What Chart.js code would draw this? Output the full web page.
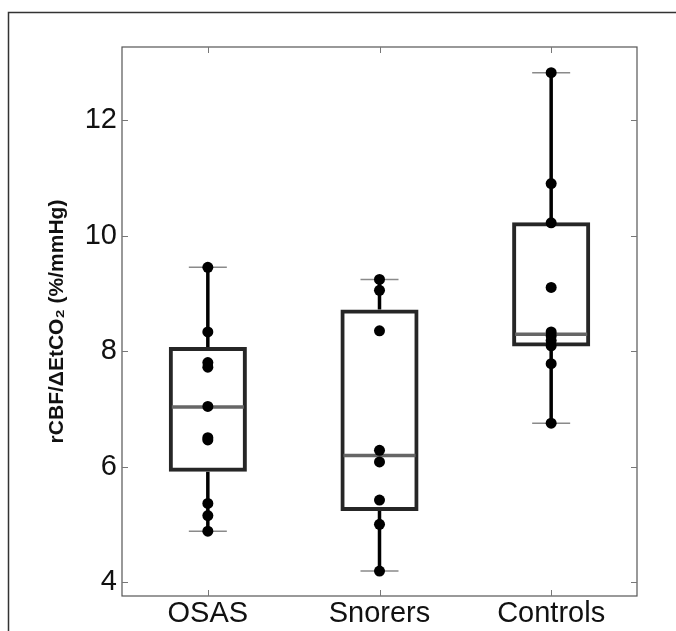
<!DOCTYPE html>
<html>
<head>
<meta charset="utf-8">
<script src="https://cdn.jsdelivr.net/npm/chart.js@4.4.1/dist/chart.umd.min.js"></script>
<style>
    html, body { margin: 0; padding: 0; background: #fff; }
    #wrap { position: relative; width: 676px; height: 631px; }
</style>
</head>
<body>
<div id="wrap"><canvas id="boxChart" width="676" height="631"></canvas></div>
<script>
// Groups and y ticks
const categories = ['OSAS', 'Snorers', 'Controls'];
const yTicks = [4, 6, 8, 10, 12];

// Individual subjects
const osasValues = [9.45, 8.33, 7.8, 7.72, 7.04, 6.5, 6.46, 5.36, 5.15, 4.88];
const snorersValues = [9.24, 9.05, 8.35, 6.28, 6.08, 5.42, 5.0, 4.19];
const controlsValues = [12.82, 10.9, 10.22, 9.1, 8.33, 8.26, 8.18, 8.09, 7.78, 6.75];

// Box statistics per group
const q1Values = [5.91, 5.23, 8.08];
const medianValues = [7.03, 6.19, 8.29];
const q3Values = [8.07, 8.72, 10.23];
const whiskerLow = [4.88, 4.19, 6.75];
const whiskerHigh = [9.45, 9.24, 12.82];

const FONT = "'Liberation Sans', Arial, Helvetica, 'DejaVu Sans', sans-serif";

// points as {x: group, y: value}
const groupValues = [osasValues, snorersValues, controlsValues];
const pointData = [];
groupValues.forEach((vals, i) => {
    vals.forEach(v => pointData.push({ x: categories[i], y: v }));
});

// figure border (left + top only, like the cropped source)
const figureFrame = {
    id: 'figureFrame',
    beforeDraw(chart) {
        const ctx = chart.ctx;
        ctx.save();
        ctx.strokeStyle = '#333';
        ctx.lineWidth = 1.5;
        ctx.beginPath();
        ctx.moveTo(8.5, chart.height);
        ctx.lineTo(8.5, 12.5);
        ctx.lineTo(chart.width, 12.5);
        ctx.stroke();
        ctx.restore();
    }
};

// whiskers + caps under the boxes, median on top of the boxes
const boxParts = {
    id: 'boxParts',
    beforeDatasetsDraw(chart) {
        const ctx = chart.ctx;
        const x = chart.scales.x;
        const y = chart.scales.y;
        ctx.save();
        categories.forEach((c, i) => {
            const cx = x.getPixelForValue(i);
            // vertical whiskers
            ctx.strokeStyle = '#000';
            ctx.lineWidth = 3.5;
            ctx.beginPath();
            ctx.moveTo(cx, y.getPixelForValue(whiskerHigh[i]));
            ctx.lineTo(cx, y.getPixelForValue(q3Values[i]));
            ctx.moveTo(cx, y.getPixelForValue(q1Values[i]));
            ctx.lineTo(cx, y.getPixelForValue(whiskerLow[i]));
            ctx.stroke();
            // caps
            ctx.strokeStyle = '#8a8a8a';
            ctx.lineWidth = 1.5;
            ctx.beginPath();
            [whiskerHigh[i], whiskerLow[i]].forEach(v => {
                const py = y.getPixelForValue(v);
                ctx.moveTo(cx - 19, py);
                ctx.lineTo(cx + 19, py);
            });
            ctx.stroke();
        });
        ctx.restore();
    },
    afterDatasetDraw(chart, args) {
        if (args.index !== 0) return;
        const ctx = chart.ctx;
        const y = chart.scales.y;
        const meta = chart.getDatasetMeta(0);
        ctx.save();
        ctx.strokeStyle = '#666';
        ctx.lineWidth = 3.5;
        meta.data.forEach((bar, i) => {
            const py = y.getPixelForValue(medianValues[i]);
            const half = bar.width / 2 - 3;
            ctx.beginPath();
            ctx.moveTo(bar.x - half, py);
            ctx.lineTo(bar.x + half, py);
            ctx.stroke();
        });
        ctx.restore();
    }
};

// axes box with inward ticks on all four sides
const axesBox = {
    id: 'axesBox',
    afterDraw(chart) {
        const { ctx, chartArea: a } = chart;
        const x = chart.scales.x;
        const y = chart.scales.y;
        ctx.save();
        ctx.strokeStyle = '#555';
        ctx.lineWidth = 1.2;
        ctx.strokeRect(a.left, a.top, a.right - a.left, a.bottom - a.top);
        ctx.strokeStyle = '#777';
        ctx.lineWidth = 1;
        ctx.beginPath();
        yTicks.forEach(t => {
            const py = Math.round(y.getPixelForValue(t)) + 0.5;
            ctx.moveTo(a.left, py); ctx.lineTo(a.left + 6, py);
            ctx.moveTo(a.right, py); ctx.lineTo(a.right - 6, py);
        });
        categories.forEach((c, i) => {
            const px = Math.round(x.getPixelForValue(i)) + 0.5;
            ctx.moveTo(px, a.top); ctx.lineTo(px, a.top + 6);
            ctx.moveTo(px, a.bottom); ctx.lineTo(px, a.bottom - 6);
        });
        ctx.stroke();
        ctx.restore();
    }
};

const ctx = document.getElementById('boxChart').getContext('2d');
new Chart(ctx, {
    type: 'bar',
    data: {
        labels: categories,
        datasets: [
            {
                label: 'box',
                data: q1Values.map((q, i) => [q, q3Values[i]]),
                backgroundColor: 'rgba(0,0,0,0)',
                borderColor: '#262626',
                borderWidth: 4,
                borderSkipped: false,
                barPercentage: 0.455,
                categoryPercentage: 1,
                order: 1
            },
            {
                type: 'line',
                label: 'subjects',
                data: pointData,
                showLine: false,
                pointRadius: 5.5,
                pointHoverRadius: 5.5,
                pointBackgroundColor: '#000',
                pointBorderColor: '#000',
                pointBorderWidth: 0,
                order: 0
            }
        ]
    },
    options: {
        responsive: false,
        animation: false,
        events: [],
        layout: { padding: { top: 47, right: 39, left: 0, bottom: 0 } },
        plugins: {
            legend: { display: false },
            tooltip: { enabled: false }
        },
        scales: {
            x: {
                type: 'category',
                offset: true,
                grid: { display: false, drawTicks: false },
                border: { display: false },
                ticks: {
                    color: '#111',
                    padding: 1,
                    maxRotation: 0,
                    font: { family: FONT, size: 29 }
                },
                afterFit(scale) { scale.height = 35; }
            },
            y: {
                min: 3.758,
                max: 13.264,
                afterBuildTicks(scale) {
                    scale.ticks = yTicks.map(v => ({ value: v }));
                },
                grid: { display: false, drawTicks: false },
                border: { display: false },
                ticks: {
                    color: '#111',
                    padding: 5,
                    font: { family: FONT, size: 29 }
                },
                title: {
                    display: true,
                    text: 'rCBF/ΔEtCO₂ (%/mmHg)',
                    color: '#111',
                    padding: { top: 45, bottom: 0 },
                    font: { family: FONT, size: 21, weight: 'bold' }
                },
                afterFit(scale) { scale.width = 122; }
            }
        }
    },
    plugins: [figureFrame, boxParts, axesBox]
});
</script>
</body>
</html>
